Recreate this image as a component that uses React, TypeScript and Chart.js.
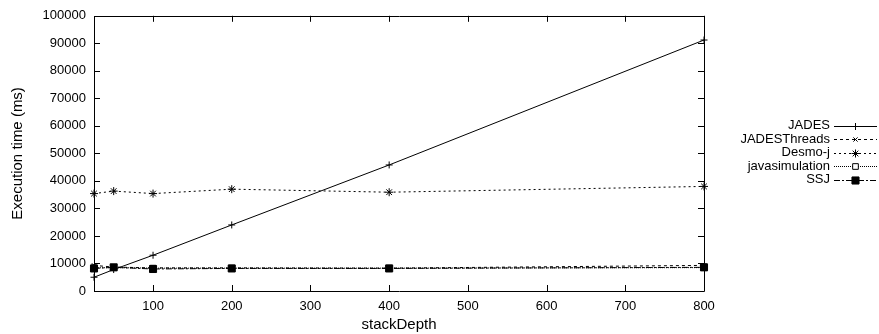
import React, { useEffect, useRef } from 'react';
import { Chart, registerables } from 'chart.js';
import { drawPoint } from 'chart.js/helpers';

Chart.register(...registerables);

const stackDepth = [25, 50, 100, 200, 400, 800];
const jades = [5000, 7800, 13000, 24000, 45800, 91200];
const jadesThreads = [9300, 8700, 8400, 8400, 8300, 9300];
const desmoJ = [35400, 36300, 35400, 37000, 35900, 38000];
const javasimulation = [8400, 8500, 8300, 8300, 8300, 8500];
const ssj = [8200, 8600, 8000, 8200, 8200, 8600];

const xTicks = [100, 200, 300, 400, 500, 600, 700, 800];
const yTicks = [0, 10000, 20000, 30000, 40000, 50000, 60000, 70000, 80000, 90000, 100000];

const FONT = "'Liberation Sans', Arial, sans-serif";

const frameAndLegend = {
  id: 'frameAndLegend',
  afterDatasetsDraw(chart: any) {
    const { ctx, chartArea } = chart;
    const { left, right, top, bottom } = chartArea;
    ctx.save();
    ctx.strokeStyle = '#000';
    ctx.lineWidth = 1;
    ctx.setLineDash([]);
    ctx.beginPath();
    ctx.rect(Math.round(left) + 0.5, Math.round(top) + 0.5, Math.round(right - left), Math.round(bottom - top));
    ctx.stroke();
    const tl = 6;
    ctx.beginPath();
    chart.scales.y.ticks.forEach((t: any) => {
      const y = Math.round(chart.scales.y.getPixelForValue(t.value)) + 0.5;
      ctx.moveTo(left, y); ctx.lineTo(left + tl, y);
      ctx.moveTo(right, y); ctx.lineTo(right - tl, y);
    });
    chart.scales.x.ticks.forEach((t: any) => {
      const x = Math.round(chart.scales.x.getPixelForValue(t.value)) + 0.5;
      ctx.moveTo(x, bottom); ctx.lineTo(x, bottom - tl);
      ctx.moveTo(x, top); ctx.lineTo(x, top + tl);
    });
    ctx.stroke();

    // legend
    const textRight = 830;
    const lineL = 834;
    const lineR = 877;
    const y0 = 125.5;
    const step = 13.5;
    ctx.font = `13px ${FONT}`;
    ctx.textAlign = 'right';
    ctx.textBaseline = 'middle';
    chart.data.datasets.forEach((ds: any, i: number) => {
      const y = y0 + i * step;
      ctx.fillStyle = '#000';
      ctx.fillText(ds.label, textRight, y);
      ctx.strokeStyle = '#000';
      ctx.lineWidth = 1;
      ctx.setLineDash(ds.borderDash || []);
      ctx.beginPath();
      ctx.moveTo(lineL, Math.round(y) + 0.5);
      ctx.lineTo(lineR, Math.round(y) + 0.5);
      ctx.stroke();
      ctx.setLineDash([]);
      ctx.fillStyle = ds.pointBackgroundColor;
      drawPoint(ctx, { pointStyle: ds.pointStyle, radius: ds.pointRadius, rotation: 0, borderWidth: 1 }, (lineL + lineR) / 2, Math.round(y) + 0.5);
    });
    ctx.restore();
  },
};

export default function App() {
  const ref = useRef<HTMLCanvasElement>(null);
  useEffect(() => {
    document.body.style.margin = '0';
    Chart.defaults.font.family = FONT;
    Chart.defaults.font.size = 13;
    Chart.defaults.color = '#000';
    const base = {
      borderColor: '#000',
      pointBorderColor: '#000',
      borderWidth: 1,
      pointBorderWidth: 1,
      fill: false,
      tension: 0,
      clip: false,
    };
    const chart = new Chart(ref.current!, {
      type: 'line',
      data: {
        labels: stackDepth,
        datasets: [
          { ...base, label: 'JADES', data: jades, order: 4, borderDash: [], pointStyle: 'cross', pointRadius: 3.5, pointBackgroundColor: '#000' },
          { ...base, label: 'JADESThreads', data: jadesThreads, order: 3, borderDash: [3, 3], pointStyle: 'crossRot', pointRadius: 3, pointBackgroundColor: '#000' },
          { ...base, label: 'Desmo-j', data: desmoJ, order: 2, borderDash: [2, 3], pointStyle: 'star', pointRadius: 4, pointBackgroundColor: '#000' },
          { ...base, label: 'javasimulation', data: javasimulation, order: 1, borderDash: [1, 1], pointStyle: 'rect', pointRadius: 4, pointBackgroundColor: '#fff' },
          { ...base, label: 'SSJ', data: ssj, order: 0, borderDash: [6, 2, 2, 2], pointStyle: 'rect', pointRadius: 5, pointBackgroundColor: '#000' },
        ].map((d: any) => ({ ...d, data: d.data.map((v: number, i: number) => ({ x: stackDepth[i], y: v })) })),
      },
      options: {
        animation: false,
        responsive: false,
        maintainAspectRatio: false,
        layout: { padding: { left: 0, right: 175, top: 15, bottom: 0 } },
        plugins: { legend: { display: false }, tooltip: { enabled: false } },
        scales: {
          x: {
            type: 'linear',
            min: 25,
            max: 800,
            grid: { display: false, drawTicks: false },
            border: { display: false },
            afterBuildTicks: (s: any) => { s.ticks = xTicks.map((v) => ({ value: v })); },
            afterFit: (s: any) => { s.height = 43; },
            ticks: { padding: 8, maxRotation: 0, autoSkip: false, callback: (v: any) => String(v) },
            title: { display: true, text: 'stackDepth', padding: { top: 1, bottom: 0 }, font: { size: 15 } },
          },
          y: {
            type: 'linear',
            min: 0,
            max: 100000,
            grid: { display: false, drawTicks: false },
            border: { display: false },
            afterBuildTicks: (s: any) => { s.ticks = yTicks.map((v) => ({ value: v })); },
            afterFit: (s: any) => { s.width = 94; },
            ticks: { padding: 8, autoSkip: false, callback: (v: any) => String(v) },
            title: { display: true, text: 'Execution time (ms)', padding: { top: 9, bottom: 0 }, font: { size: 15 } },
          },
        },
      },
      plugins: [frameAndLegend],
    } as any);
    return () => chart.destroy();
  }, []);
  return (
    <div style={{ position: 'absolute', left: 0, top: 0, width: 879, height: 334, background: '#fff' }}>
      <canvas ref={ref} width={879} height={334} style={{ width: 879, height: 334, display: 'block' }} />
    </div>
  );
}
